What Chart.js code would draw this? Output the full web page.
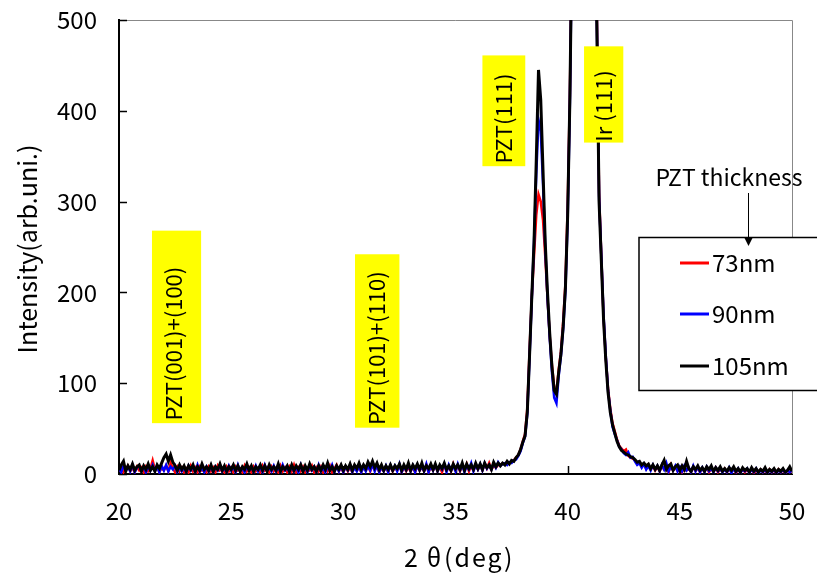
<!DOCTYPE html>
<html>
<head>
<meta charset="utf-8">
<script src="https://cdn.jsdelivr.net/npm/chart.js@4.4.1/dist/chart.umd.min.js"></script>
<style>
  html, body { margin: 0; padding: 0; background: #fff; }
</style>
</head>
<body>
<canvas id="chart" width="817" height="575"></canvas>
<script>
// scan grid: 20.0 .. 50.0 deg in 0.1 deg steps, one row per degree
const angleStart = 20;
const angleStep = 0.1;

const thicknesses = ["73nm", "90nm", "105nm"];
const lineColors = ["#ff0000", "#0000ff", "#000000"];

const xTicks = [20, 25, 30, 35, 40, 45, 50];
const yTicks = [0, 100, 200, 300, 400, 500];

const peakNames = ["PZT(001)+(100)", "PZT(101)+(110)", "PZT(111)", "Ir (111)"];

const int73 = [
  3, 8, 2, 6, 9, 3, 7, 2, 8, 4,
  7, 2, 8, 3, 6, 15, 5, 8, 2, 7,
  4, 9, 3, 12, 6, 2, 8, 3, 7, 2,
  6, 2, 9, 3, 7, 2, 8, 4, 6, 2,
  8, 3, 7, 2, 9, 4, 6, 2, 8, 3,
  7, 2, 8, 4, 6, 2, 9, 3, 7, 2,
  8, 3, 6, 2, 9, 4, 7, 2, 8, 3,
  6, 2, 9, 3, 7, 2, 8, 3, 10, 2,
  7, 3, 8, 2, 6, 4, 9, 2, 7, 3,
  8, 2, 7, 3, 9, 2, 6, 10, 3, 7,
  2, 8, 3, 7, 2, 9, 4, 7, 2, 8,
  4, 9, 3, 10, 5, 8, 2, 7, 3, 8,
  2, 9, 3, 7, 4, 10, 2, 8, 3, 7,
  3, 8, 2, 9, 4, 7, 3, 10, 2, 8,
  4, 9, 3, 8, 2, 10, 4, 7, 3, 11,
  4, 9, 3, 8, 5, 11, 3, 9, 4, 10,
  5, 10, 4, 11, 6, 12, 5, 9, 7, 10,
  10, 12, 11, 13, 12, 14, 15, 18, 21, 27,
  36, 44, 72, 135, 195, 240, 285, 308, 300, 280,
  240, 195, 152, 120, 95, 90, 115, 135, 168, 210,
  295, 420, 615, 905, 1200, 1500, 1700, 1600, 1400, 1200,
  1000, 850, 645, 510, 310, 240, 172, 128, 94, 72,
  56, 47, 38, 31, 28, 25, 27, 20, 18, 17,
  15, 11, 13, 8, 11, 6, 10, 5, 9, 4,
  8, 3, 9, 5, 7, 2, 10, 4, 8, 3,
  7, 2, 8, 4, 6, 2, 8, 3, 7, 2,
  6, 3, 7, 2, 6, 3, 7, 2, 5, 3,
  6, 2, 5, 3, 6, 1, 5, 2, 6, 2,
  5, 2, 6, 1, 4, 2, 5, 2, 4, 1,
  5, 2, 4, 1, 5, 2, 4, 1, 4, 2,
  3
];

const int90 = [
  6, 2, 9, 4, 8, 3, 10, 2, 7, 9,
  3, 8, 2, 9, 4, 10, 3, 8, 2, 9,
  4, 10, 3, 8, 5, 9, 2, 8, 3, 7,
  2, 9, 4, 8, 2, 10, 3, 7, 2, 8,
  3, 9, 2, 8, 4, 10, 3, 7, 2, 9,
  4, 8, 2, 10, 3, 7, 2, 9, 4, 8,
  2, 9, 3, 8, 2, 10, 4, 7, 3, 9,
  3, 8, 2, 10, 4, 7, 2, 9, 3, 8,
  2, 10, 3, 8, 2, 9, 4, 8, 2, 10,
  3, 7, 2, 9, 4, 10, 2, 8, 3, 9,
  2, 8, 4, 10, 2, 7, 3, 9, 2, 8,
  3, 9, 4, 11, 3, 10, 2, 8, 3, 9,
  2, 10, 4, 9, 3, 11, 2, 8, 4, 10,
  3, 9, 2, 10, 4, 8, 3, 11, 2, 9,
  4, 10, 3, 9, 5, 11, 2, 10, 4, 9,
  3, 11, 4, 10, 2, 9, 5, 12, 3, 10,
  5, 11, 4, 12, 6, 10, 5, 12, 7, 13,
  9, 11, 12, 10, 13, 12, 15, 16, 20, 25,
  34, 41, 66, 128, 192, 255, 330, 390, 378, 320,
  250, 195, 150, 112, 84, 78, 108, 130, 160, 202,
  280, 410, 605, 895, 1200, 1500, 1700, 1600, 1400, 1200,
  1000, 850, 640, 500, 305, 240, 175, 130, 92, 70,
  52, 44, 37, 30, 27, 23, 21, 24, 18, 19,
  14, 10, 12, 7, 11, 5, 9, 4, 10, 5,
  9, 3, 10, 5, 12, 3, 8, 4, 9, 3,
  8, 3, 9, 4, 7, 2, 9, 3, 8, 2,
  7, 2, 8, 3, 6, 2, 7, 3, 6, 2,
  5, 2, 7, 1, 6, 2, 6, 1, 5, 3,
  6, 1, 5, 2, 6, 1, 4, 2, 5, 1,
  4, 2, 5, 1, 4, 2, 5, 1, 4, 2,
  4
];

const int105 = [
  4, 10, 14, 3, 9, 5, 11, 4, 8, 10,
  3, 9, 5, 11, 4, 8, 3, 10, 6, 12,
  18, 22, 14, 21, 13, 9, 4, 10, 5, 9,
  3, 9, 5, 10, 3, 8, 4, 11, 5, 8,
  4, 10, 3, 8, 5, 11, 4, 9, 3, 8,
  5, 10, 4, 9, 3, 8, 5, 11, 4, 9,
  3, 8, 5, 10, 4, 9, 3, 10, 5, 8,
  4, 11, 3, 8, 5, 9, 3, 10, 4, 9,
  5, 10, 3, 9, 4, 11, 5, 8, 3, 9,
  4, 10, 5, 12, 4, 8, 3, 9, 5, 10,
  4, 9, 5, 11, 4, 10, 6, 12, 5, 10,
  6, 13, 8, 14, 7, 12, 5, 10, 4, 9,
  5, 10, 4, 9, 6, 11, 4, 10, 5, 12,
  4, 10, 6, 11, 5, 12, 4, 9, 6, 11,
  5, 11, 4, 10, 6, 12, 5, 9, 4, 11,
  6, 10, 5, 12, 4, 11, 6, 10, 5, 12,
  6, 11, 5, 12, 7, 10, 5, 13, 8, 12,
  9, 12, 10, 14, 11, 15, 14, 18, 21, 27,
  35, 42, 68, 130, 195, 255, 345, 445, 412, 335,
  255, 200, 155, 118, 92, 88, 112, 132, 162, 205,
  285, 415, 610, 900, 1200, 1500, 1700, 1600, 1400, 1200,
  1000, 850, 640, 495, 300, 235, 170, 125, 90, 68,
  54, 45, 36, 30, 26, 24, 22, 21, 19, 18,
  16, 13, 14, 10, 12, 9, 11, 6, 10, 5,
  9, 4, 10, 15, 5, 9, 11, 4, 8, 10,
  4, 9, 5, 14, 6, 3, 8, 5, 9, 4,
  7, 3, 8, 5, 9, 3, 7, 4, 8, 3,
  6, 3, 7, 4, 8, 3, 6, 2, 7, 4,
  6, 2, 7, 3, 6, 2, 5, 3, 7, 2,
  5, 3, 6, 2, 5, 3, 6, 2, 4, 8,
  3
];

const series = [int73, int90, int105];

const FONT = '"Noto Sans CJK JP", "Noto Sans", sans-serif';
Chart.defaults.font.family = FONT;
Chart.defaults.color = "#000";

function toPoints(values) {
  return values.map((v, i) => ({ x: +(angleStart + i * angleStep).toFixed(1), y: v }));
}

// peak label boxes in data units (angle, intensity); text sits at the bottom of each box
const labelBoxes = [
  { x0: 21.47, x1: 23.66, y0: 56, y1: 268, tx: 22.45, ty: 59 },
  { x0: 30.52, x1: 32.50, y0: 51, y1: 242, tx: 31.50, ty: 54 },
  { x0: 36.20, x1: 38.11, y0: 339, y1: 461, tx: 37.16, ty: 342 },
  { x0: 40.73, x1: 42.48, y0: 365, y1: 471, tx: 41.62, ty: 366 }
];

const decorations = {
  id: "decorations",
  beforeDatasetsDraw(chart) {
    const { ctx, chartArea: a, scales: { x, y } } = chart;
    ctx.save();
    // thin grey frame on top and right
    ctx.strokeStyle = "#888";
    ctx.lineWidth = 1;
    ctx.beginPath();
    ctx.moveTo(a.left, a.top + 0.5);
    ctx.lineTo(a.right + 0.5, a.top + 0.5);
    ctx.lineTo(a.right + 0.5, a.bottom);
    ctx.stroke();
    // inward tick marks
    ctx.strokeStyle = "#000";
    ctx.lineWidth = 1.5;
    ctx.beginPath();
    yTicks.forEach(v => {
      const py = Math.round(y.getPixelForValue(v)) + 0.5;
      ctx.moveTo(a.left, py);
      ctx.lineTo(a.left + 8, py);
    });
    xTicks.slice(1, -1).forEach(v => {
      const px = Math.round(x.getPixelForValue(v)) + 0.5;
      ctx.moveTo(px, a.bottom);
      ctx.lineTo(px, a.bottom - 8);
    });
    ctx.stroke();
    ctx.restore();
  },
  afterDatasetsDraw(chart) {
    const { ctx, scales: { x, y } } = chart;
    ctx.save();
    labelBoxes.forEach((b, i) => {
      const l = x.getPixelForValue(b.x0), r = x.getPixelForValue(b.x1);
      const t = y.getPixelForValue(b.y1), btm = y.getPixelForValue(b.y0);
      ctx.fillStyle = "#ffff00";
      ctx.fillRect(l, t, r - l, btm - t);
      ctx.save();
      ctx.translate(x.getPixelForValue(b.tx), y.getPixelForValue(b.ty));
      ctx.rotate(-Math.PI / 2);
      ctx.fillStyle = "#000";
      ctx.font = "22px " + FONT;
      ctx.textAlign = "left";
      ctx.textBaseline = "middle";
      ctx.fillText(peakNames[i], 0, 0);
      ctx.restore();
    });
    ctx.restore();
  },
  afterDraw(chart) {
    const { ctx } = chart;
    ctx.save();
    // x axis title: "2", theta, "(deg)" placed piece by piece
    ctx.fillStyle = "#000";
    ctx.textBaseline = "middle";
    ctx.font = "25px " + FONT;
    ctx.textAlign = "center";
    ctx.fillText("2", 411, 557);
    ctx.fillText("θ", 434, 557);
    ctx.textAlign = "left";
    ctx.letterSpacing = "2px";
    ctx.fillText("(deg)", 444, 557);
    ctx.letterSpacing = "0px";

    ctx.textAlign = "center";
    ctx.save();
    ctx.translate(27, 249);
    ctx.rotate(-Math.PI / 2);
    ctx.fillText("Intensity(arb.uni.)", 0, 0);
    ctx.restore();

    // legend box, heading and arrow
    ctx.fillStyle = "#fff";
    ctx.fillRect(639, 237.5, 200, 153);
    ctx.strokeStyle = "#000";
    ctx.lineWidth = 1.5;
    ctx.strokeRect(639, 237.5, 200, 153);

    ctx.fillStyle = "#000";
    ctx.font = "23px " + FONT;
    ctx.fillText("PZT thickness", 729, 177);
    ctx.lineWidth = 1;
    ctx.beginPath();
    ctx.moveTo(748.5, 193);
    ctx.lineTo(748.5, 240);
    ctx.stroke();
    ctx.beginPath();
    ctx.moveTo(744, 237);
    ctx.lineTo(753, 237);
    ctx.lineTo(748.5, 246);
    ctx.closePath();
    ctx.fill();

    ctx.font = "24px " + FONT;
    ctx.textAlign = "left";
    const rows = [263, 314, 366];
    thicknesses.forEach((name, i) => {
      ctx.strokeStyle = lineColors[i];
      ctx.lineWidth = 3;
      ctx.beginPath();
      ctx.moveTo(680, rows[i]);
      ctx.lineTo(709, rows[i]);
      ctx.stroke();
      ctx.fillStyle = "#000";
      ctx.fillText(name, 712, rows[i]);
    });
    ctx.restore();
  }
};

const ctx = document.getElementById("chart").getContext("2d");
new Chart(ctx, {
  type: "line",
  data: {
    datasets: series.map((vals, i) => ({
      label: thicknesses[i],
      data: toPoints(vals),
      borderColor: lineColors[i],
      borderWidth: i === 2 ? 3 : 2.5,
      pointRadius: 0,
      tension: 0,
      order: 3 - i
    }))
  },
  options: {
    responsive: false,
    animation: false,
    devicePixelRatio: 1,
    layout: { padding: { top: 20, right: 25, left: 0, bottom: 0 } },
    plugins: { legend: { display: false }, tooltip: { enabled: false } },
    scales: {
      x: {
        type: "linear",
        min: 20,
        max: 50,
        afterFit: s => { s.height = 101; s.paddingLeft = 0; s.paddingRight = 0; },
        afterBuildTicks: s => { s.ticks = xTicks.map(v => ({ value: v })); },
        grid: { display: false, drawTicks: false },
        border: { display: true, color: "#000", width: 2 },
        ticks: { padding: 22, font: { size: 24 }, color: "#000", maxRotation: 0 }
      },
      y: {
        min: 0,
        max: 500,
        afterFit: s => { s.width = 119; s.paddingTop = 0; s.paddingBottom = 0; },
        afterBuildTicks: s => { s.ticks = yTicks.map(v => ({ value: v })); },
        grid: { display: false, drawTicks: false },
        border: { display: true, color: "#000", width: 2 },
        ticks: { padding: 22, font: { size: 24 }, color: "#000" }
      }
    }
  },
  plugins: [decorations]
});
</script>
</body>
</html>
